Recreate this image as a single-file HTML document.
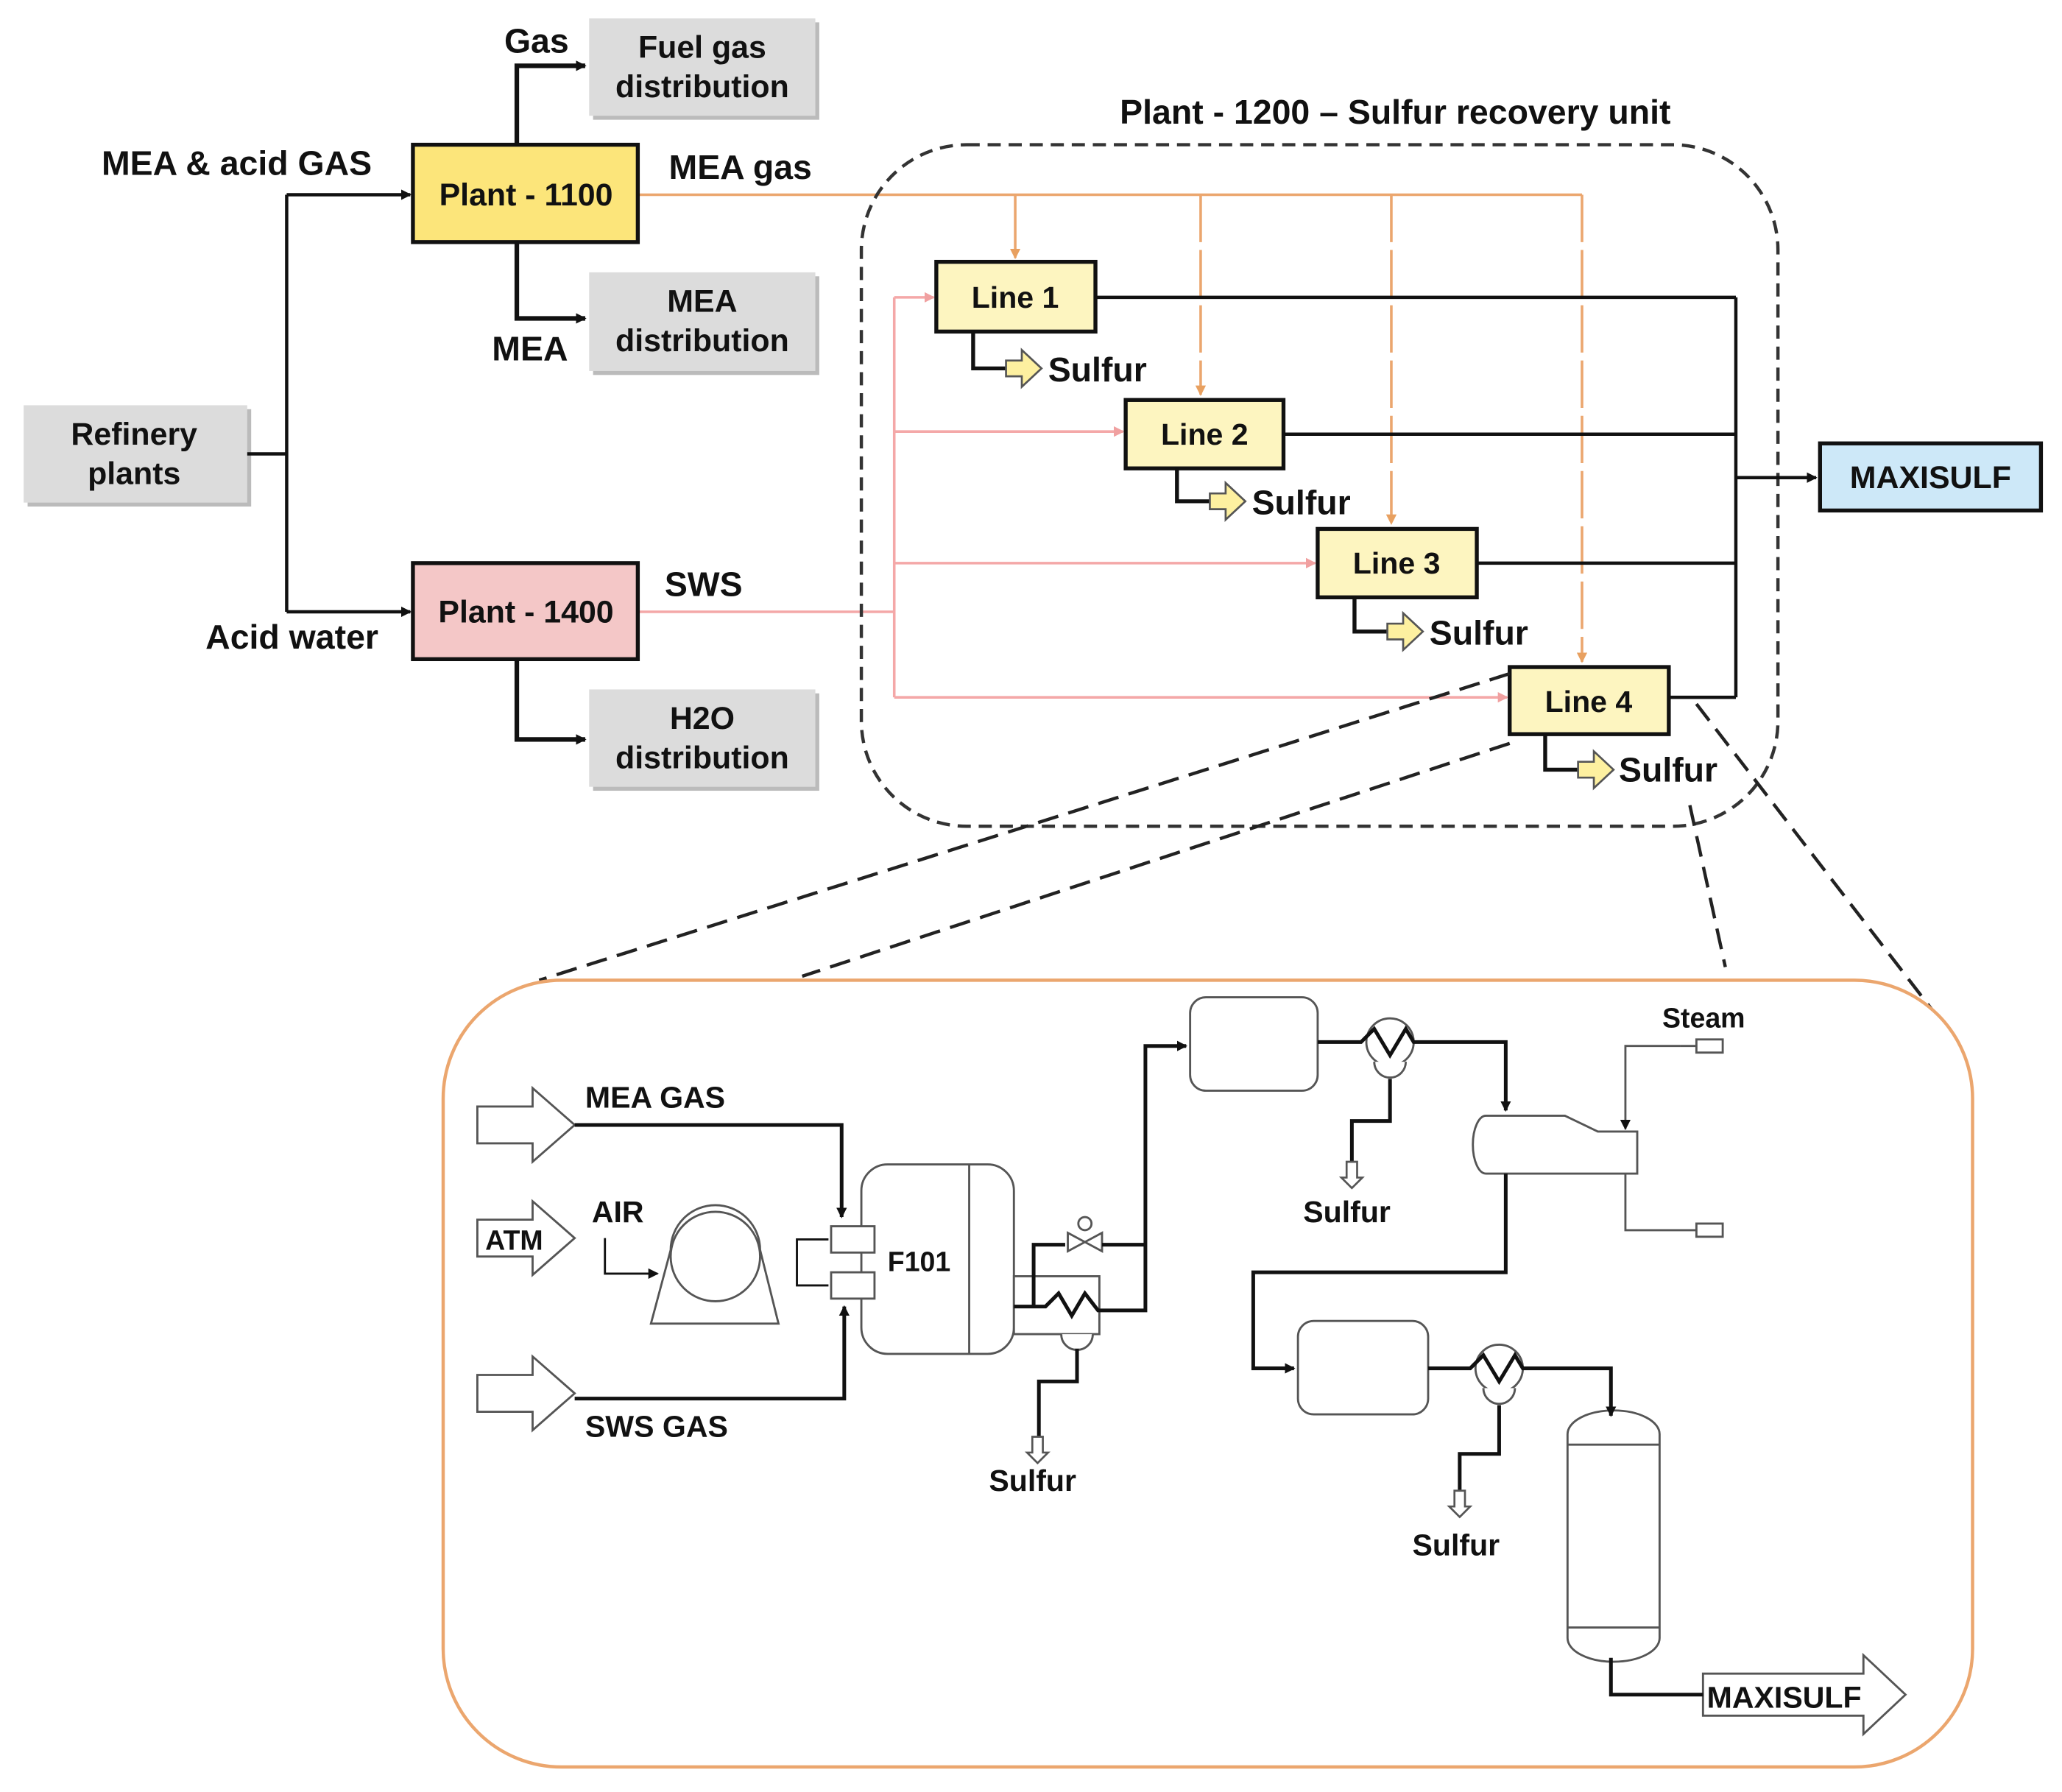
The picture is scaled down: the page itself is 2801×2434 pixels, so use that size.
<!DOCTYPE html>
<html><head><meta charset="utf-8"><style>
html,body{margin:0;padding:0;background:#fff;}
svg{display:block;}
text{font-family:"Liberation Sans",sans-serif;font-weight:bold;fill:#111;}
</style></head><body>
<svg width="2801" height="2434" viewBox="0 0 1568 1362" preserveAspectRatio="none" xmlns="http://www.w3.org/2000/svg">
<defs>
<marker id="ab" markerWidth="8" markerHeight="8" refX="7" refY="4" orient="auto" markerUnits="userSpaceOnUse"><path d="M0,0 L8,4 L0,8 z" fill="#111"/></marker>
<marker id="ao" markerWidth="8" markerHeight="8" refX="7" refY="4" orient="auto" markerUnits="userSpaceOnUse"><path d="M0,0 L8,4 L0,8 z" fill="#e8a060"/></marker>
<marker id="ap" markerWidth="8" markerHeight="8" refX="7" refY="4" orient="auto" markerUnits="userSpaceOnUse"><path d="M0,0 L8,4 L0,8 z" fill="#f0a0a0"/></marker>
</defs>
<!-- gray boxes with shadow -->
<g>
<rect x="21" y="311" width="170" height="74" fill="#bbb"/><rect x="18" y="308" width="170" height="74" fill="#dcdcdc"/>
<rect x="451" y="17" width="172" height="74" fill="#bbb"/><rect x="448" y="14" width="172" height="74" fill="#dcdcdc"/>
<rect x="451" y="210" width="172" height="75" fill="#bbb"/><rect x="448" y="207" width="172" height="75" fill="#dcdcdc"/>
<rect x="451" y="527" width="172" height="74" fill="#bbb"/><rect x="448" y="524" width="172" height="74" fill="#dcdcdc"/>
</g>
<g font-size="24" text-anchor="middle">
<text x="102" y="338">Refinery</text><text x="102" y="368">plants</text>
<text x="534" y="44">Fuel gas</text><text x="534" y="74">distribution</text>
<text x="534" y="237">MEA</text><text x="534" y="267">distribution</text>
<text x="534" y="554">H2O</text><text x="534" y="584">distribution</text>
</g>
<!-- black flow lines left -->
<g stroke="#111" stroke-width="2.5" fill="none">
<path d="M188 345 H218 M218 148 V465"/>
<path d="M218 148 H312" marker-end="url(#ab)"/>
<path d="M218 465 H312" marker-end="url(#ab)"/>
<path d="M393 110 V50 H445" stroke-width="3.5" marker-end="url(#ab)"/>
<path d="M393 184 V242 H445" stroke-width="3.5" marker-end="url(#ab)"/>
<path d="M393 501 V562 H445" stroke-width="3.5" marker-end="url(#ab)"/>
</g>
<!-- orange lines -->
<g stroke="#eba66e" stroke-width="2" fill="none">
<path d="M485 148 H1203"/>
<path d="M772 148 V196" marker-end="url(#ao)"/>
<path d="M913 148 V300" stroke-dasharray="36 6" marker-end="url(#ao)"/>
<path d="M1058 148 V398" stroke-dasharray="36 6" marker-end="url(#ao)"/>
<path d="M1203 148 V503" stroke-dasharray="36 6" marker-end="url(#ao)"/>
</g>
<!-- pink lines -->
<g stroke="#f4a8a8" stroke-width="2" fill="none">
<path d="M485 465 H680 M680 226 V530"/>
<path d="M680 226 H710" marker-end="url(#ap)"/>
<path d="M680 328 H854" marker-end="url(#ap)"/>
<path d="M680 428 H1000" marker-end="url(#ap)"/>
<path d="M680 530 H1146" marker-end="url(#ap)"/>
</g>
<!-- plants -->
<rect x="314" y="110" width="171" height="74" fill="#fce57a" stroke="#111" stroke-width="3"/>
<rect x="314" y="428" width="171" height="73" fill="#f4c7c7" stroke="#111" stroke-width="3"/>
<g font-size="24" text-anchor="middle">
<text x="400" y="156">Plant - 1100</text>
<text x="400" y="473">Plant - 1400</text>
</g>
<g font-size="26">
<text x="408" y="40" text-anchor="middle">Gas</text>
<text x="180" y="133" text-anchor="middle">MEA &amp; acid GAS</text>
<text x="563" y="136" text-anchor="middle">MEA gas</text>
<text x="403" y="274" text-anchor="middle">MEA</text>
<text x="535" y="453" text-anchor="middle">SWS</text>
<text x="222" y="493" text-anchor="middle">Acid water</text>
<text x="1061" y="94" text-anchor="middle">Plant - 1200 – Sulfur recovery unit</text>
</g>
<!-- dashed enclosure -->
<rect x="655" y="110" width="697" height="518" rx="80" fill="none" stroke="#333" stroke-width="2.5" stroke-dasharray="10 6"/>
<!-- right black lines -->
<g stroke="#111" stroke-width="2.5" fill="none">
<path d="M833 226 H1320 M976 330 H1320 M1123 428 H1320 M1269 530 H1320 M1320 226 V530"/>
<path d="M1320 363 H1381" marker-end="url(#ab)"/>
</g>
<rect x="1384" y="337" width="168" height="51" fill="#cde8f8" stroke="#111" stroke-width="3"/>
<text x="1468" y="371" font-size="24" text-anchor="middle">MAXISULF</text>
<!-- line boxes -->
<g fill="#fdf5c0" stroke="#111" stroke-width="3">
<rect x="712" y="199" width="121" height="53"/>
<rect x="856" y="304" width="120" height="52"/>
<rect x="1002" y="402" width="121" height="52"/>
<rect x="1148" y="507" width="121" height="51"/>
</g>
<g font-size="23" text-anchor="middle">
<text x="772" y="234">Line 1</text><text x="916" y="338">Line 2</text>
<text x="1062" y="436">Line 3</text><text x="1208" y="541">Line 4</text>
</g>
<!-- sulfur outputs -->
<g stroke="#111" stroke-width="3" fill="none">
<path d="M740 252 V280 H765"/><path d="M895 356 V381 H920"/><path d="M1030 454 V480 H1055"/><path d="M1175 558 V585 H1200"/>
</g>
<g fill="#fdf0a0" stroke="#555" stroke-width="1.5">
<path d="M765 274 h12 v-8 l15 14 l-15 14 v-8 h-12z"/>
<path d="M920 375 h12 v-8 l15 14 l-15 14 v-8 h-12z"/>
<path d="M1055 474 h12 v-8 l15 14 l-15 14 v-8 h-12z"/>
<path d="M1200 579 h12 v-8 l15 14 l-15 14 v-8 h-12z"/>
</g>
<g font-size="26">
<text x="797" y="290">Sulfur</text><text x="952" y="391">Sulfur</text>
<text x="1087" y="490">Sulfur</text><text x="1231" y="594">Sulfur</text>
</g>
<!-- zoom dashed lines -->
<g stroke="#222" stroke-width="2.5" stroke-dasharray="16 8" fill="none">
<path d="M1148 512 L410 745"/><path d="M1148 565 L610 742"/>
<path d="M1285 612 L1312 735"/><path d="M1290 535 L1475 775"/>
</g>
<!-- bottom box -->
<rect x="337" y="745" width="1163" height="598" rx="90" fill="#fff" stroke="#eba66e" stroke-width="2.5"/>
<!-- PFD -->
<g stroke="#555" stroke-width="1.6" fill="#fff">
<path d="M363 841 h42 v-14 l32 28 l-32 28 v-14 h-42z"/>
<path d="M363 927 h42 v-14 l32 28 l-32 28 v-14 h-42z"/>
<path d="M363 1045 h42 v-14 l32 28 l-32 28 v-14 h-42z"/>
<path d="M1295 1272 h122 v-14 l32 30 l-32 30 v-14 h-122z"/>
<rect x="655" y="885" width="116" height="144" rx="20"/>
<line x1="737" y1="885" x2="737" y2="1029"/>
<rect x="632" y="932" width="33" height="20"/><rect x="632" y="967" width="33" height="20"/>
<path d="M495 1006 L510 950 A34 34 0 1 1 578 950 L592 1006 Z"/>
<circle cx="544" cy="955" r="34"/>
<rect x="905" y="758" width="97" height="71" rx="12"/>
<rect x="987" y="1004" width="99" height="71" rx="12"/>
<path d="M1130 848 H1190 L1215 860 H1245 V892 H1130 A10 22 0 0 1 1130 848Z"/>
<path d="M1192 1090 A35 18 0 0 1 1262 1090 V1245 A35 18 0 0 1 1192 1245 Z"/>
<line x1="1192" y1="1098" x2="1262" y2="1098"/><line x1="1192" y1="1237" x2="1262" y2="1237"/>
<rect x="771" y="970" width="65" height="44"/>
<path d="M807 1014 a12 12 0 0 0 24 0"/>
<circle cx="1057" cy="792" r="18"/><path d="M1045 807 a12 12 0 0 0 24 0"/>
<circle cx="1140" cy="1040" r="18"/><path d="M1128 1055 a12 12 0 0 0 24 0"/>
<path d="M1290 795 h-12 M1290 790 h20 v10 h-20z"/>
<path d="M1290 930 h20 v10 h-20z"/>
<path d="M812 937 l26 14 v-14 l-26 14z"/><circle cx="825" cy="930" r="5"/>
</g>
<g stroke="#111" stroke-width="2.8" fill="none">
<path d="M437 855 H640 V925" marker-end="url(#ab)"/>
<path d="M437 1063 H642 V993" marker-end="url(#ab)"/>
<path d="M460 941 V968 H500" stroke-width="1.6" marker-end="url(#ab)"/>
<path d="M606 960 V942 H630 M606 960 V977 H630" stroke-width="1.6"/>
<path d="M771 993 H795 L805 983 L815 1000 L825 983 L835 996 H871 V795 H902" marker-end="url(#ab)"/>
<path d="M786 993 V946 H810 M838 946 H871"/>
<path d="M819 1025 V1050 H790 V1095"/>
<path d="M1002 792 H1035 L1045 782 L1057 802 L1069 782 L1075 792 H1145 V844" marker-end="url(#ab)"/>
<path d="M1057 820 V852 H1028 V885"/>
<path d="M1145 892 V967 H953 V1040 H984" marker-end="url(#ab)"/>
<path d="M1086 1040 H1118 L1128 1030 L1140 1050 L1152 1030 L1158 1040 H1225 V1076" marker-end="url(#ab)"/>
<path d="M1140 1068 V1105 H1110 V1135"/>
<path d="M1225 1260 V1288 H1295"/>
</g>
<g stroke="#555" stroke-width="1.6" fill="none">
<path d="M1278 795 H1236 V858" marker-end="url(#ab)"/>
<path d="M1236 892 V935 H1290"/>
</g>
<g stroke="#555" stroke-width="1.5" fill="#fff">
<path d="M785 1092 h8 v12 h4 l-8 8 l-8 -8 h4z"/>
<path d="M1024 883 h8 v12 h4 l-8 8 l-8 -8 h4z"/>
<path d="M1106 1133 h8 v12 h4 l-8 8 l-8 -8 h4z"/>
</g>
<g font-size="23">
<text x="445" y="842">MEA GAS</text>
<text x="450" y="929">AIR</text>
<text x="369" y="950" font-size="21">ATM</text>
<text x="445" y="1092">SWS GAS</text>
<text x="675" y="966" font-weight="normal" font-size="21">F101</text>
<text x="752" y="1133">Sulfur</text>
<text x="991" y="929">Sulfur</text>
<text x="1074" y="1182">Sulfur</text>
<text x="1264" y="781" font-size="21">Steam</text>
<text x="1298" y="1298" font-size="23">MAXISULF</text>
</g>
</svg>
</body></html>
